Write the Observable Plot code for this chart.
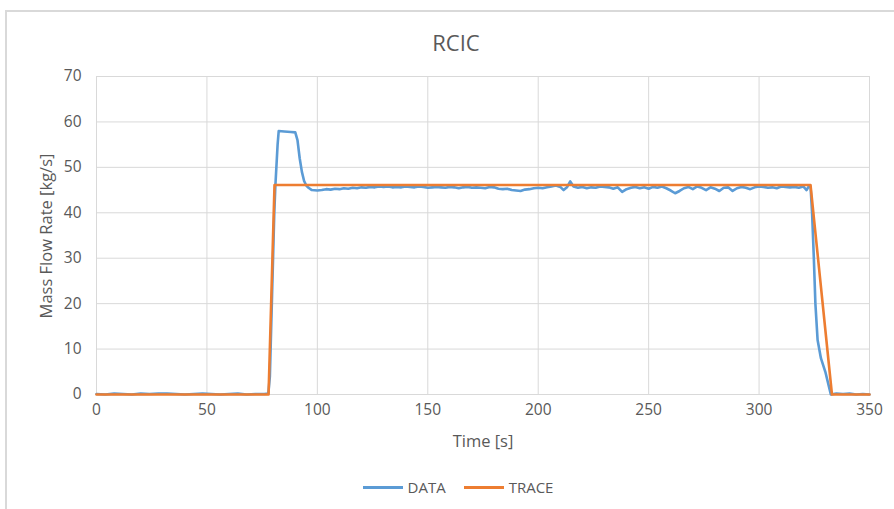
<!DOCTYPE html>
<html>
<head>
<meta charset="utf-8">
<script src="https://cdn.jsdelivr.net/npm/d3@7"></script>
<script src="https://cdn.jsdelivr.net/npm/@observablehq/plot@0.6"></script>
<style>
  body { margin: 0; background: #fff; }
  #wrap { position: relative; width: 894px; height: 509px; overflow: hidden; font-family: "Open Sans", sans-serif; color: #595959; }
  #frame { position: absolute; left: 5px; top: 10px; width: 1000px; height: 1000px; border-left: 2px solid #d9d9d9; border-top: 2px solid #d9d9d9; }
  #title { position: absolute; left: 0; width: 912px; top: 27px; text-align: center; font-size: 22px; }
  #chart { position: absolute; left: 0; top: 0; }
  #ylab { position: absolute; left: 45px; top: 236px; transform: translate(-50%, -50%) rotate(-90deg); font-size: 16.5px; white-space: nowrap; }
  #xlab { position: absolute; left: 483px; top: 440px; transform: translate(-50%, -50%); font-size: 16.5px; white-space: nowrap; }
  #legend { position: absolute; top: 477px; left: 0; width: 916px; display: flex; justify-content: center; font-size: 15px; }
  .item { display: flex; align-items: center; margin: 0 9px; }
  .sw { width: 40px; height: 3px; margin-right: 5px; }
</style>
</head>
<body>
<div id="wrap">
  <div id="frame"></div>
  <div id="title">RCIC</div>
  <div id="chart"></div>
  <div id="ylab">Mass Flow Rate [kg/s]</div>
  <div id="xlab">Time [s]</div>
  <div id="legend"></div>
</div>
<script>
const seriesNames = ["DATA", "TRACE"];
const seriesColors = ["#5B9BD5", "#ED7D31"];
const xTicks = [0, 50, 100, 150, 200, 250, 300, 350];
const yTicks = [0, 10, 20, 30, 40, 50, 60, 70];

const dataTime = [
  0, 4, 8, 12, 16, 20, 24, 28, 32, 36, 40, 44, 48, 52, 56, 60, 64, 68, 72, 76, 77.8,
  78.5, 79.5, 80.5, 81, 82, 82.5, 85, 88, 90, 91, 92, 93, 94, 95, 96, 97.5,
  100, 102, 104, 106, 108, 110, 112, 114, 116, 118, 120, 122, 124, 126, 128, 130,
  132, 134, 136, 138, 140, 142, 144, 146, 148, 150, 152, 154, 156, 158, 160, 162,
  164, 166, 168, 170, 172, 174, 176, 178, 180, 182, 184, 186, 188, 190, 192, 194,
  196, 198, 200, 202, 204, 206, 208, 210, 211.5, 213, 214.5, 216, 218, 220, 222,
  224, 226, 228, 230, 232, 234, 236, 238, 240, 242, 244, 246, 248, 250, 252, 254,
  256, 258, 260, 262, 264, 266, 268, 270, 272, 274, 276, 278, 280, 282, 284, 286,
  288, 290, 292, 294, 296, 298, 300, 302, 304, 306, 308, 310, 312, 314, 316, 318,
  320, 321.5, 322.5, 323.3, 324, 324.8, 325.5, 326.5, 328, 330, 331.5, 332.5,
  335, 338, 341, 344, 347, 350
];
const dataValue = [
  0.1, 0.0, 0.2, 0.1, 0.0, 0.2, 0.1, 0.2, 0.2, 0.1, 0.0, 0.1, 0.2, 0.1, 0.0, 0.1, 0.2, 0.0, 0.1, 0.1, 0.2,
  4, 22, 40, 46, 55, 58, 57.9, 57.8, 57.7, 56, 52, 49, 47, 46, 45.5, 45.0,
  44.9, 45.0, 45.2, 45.1, 45.3, 45.2, 45.4, 45.3, 45.5, 45.4, 45.6, 45.5, 45.7, 45.6, 45.8, 45.7,
  45.8, 45.6, 45.7, 45.6, 45.8, 45.7, 45.6, 45.8, 45.7, 45.5, 45.6, 45.7, 45.6, 45.5, 45.7, 45.6,
  45.4, 45.6, 45.7, 45.5, 45.6, 45.5, 45.4, 45.7, 45.6, 45.3, 45.2, 45.3, 45.0, 44.9, 44.8, 45.1,
  45.2, 45.4, 45.5, 45.4, 45.6, 45.8, 46.0, 45.7, 45.0, 45.6, 46.9, 45.8, 45.5, 45.7, 45.4,
  45.6, 45.5, 45.8, 45.7, 45.6, 45.3, 45.6, 44.6, 45.2, 45.5, 45.7, 45.4, 45.6, 45.3, 45.7, 45.5,
  45.8, 45.4, 44.9, 44.3, 44.8, 45.4, 45.7, 45.2, 45.8, 45.5, 45.0, 45.6, 45.3, 44.8, 45.5, 45.6,
  44.8, 45.4, 45.7, 45.5, 45.2, 45.6, 45.8, 45.7, 45.5, 45.6, 45.4, 45.8, 45.7, 45.6, 45.7, 45.5,
  45.8, 45.0, 45.8, 45.8, 40, 30, 20, 12, 8, 5, 2, 0,
  0.2, 0.1, 0.2, 0.0, 0.1, 0.0
];
const traceTime = [0, 77.9, 80.6, 323.3, 333, 350];
const traceValue = [0, 0, 46.1, 46.1, 0, 0];

const dataRows = dataTime.map((t, i) => ({t, v: dataValue[i]}));
const traceRows = traceTime.map((t, i) => ({t, v: traceValue[i]}));

const plot = Plot.plot({
  width: 894,
  height: 460,
  marginLeft: 96,
  marginRight: 25,
  marginTop: 76,
  marginBottom: 66,
  style: {fontFamily: "'Open Sans', sans-serif", fontSize: "15.5px", color: "#595959", background: "transparent", overflow: "visible"},
  x: {domain: [0, 350], ticks: xTicks, label: null},
  y: {domain: [0, 70], ticks: yTicks, label: null},
  marks: [
    Plot.gridX(xTicks, {stroke: "#d9d9d9", strokeOpacity: 1, strokeWidth: 1}),
    Plot.gridY(yTicks, {stroke: "#d9d9d9", strokeOpacity: 1, strokeWidth: 1}),
    Plot.axisX(xTicks, {tickSize: 0, tickPadding: 9, fill: "#595959", label: null}),
    Plot.axisY(yTicks, {tickSize: 0, tickPadding: 15, fill: "#595959", label: null}),
    Plot.line(dataRows, {x: "t", y: "v", stroke: seriesColors[0], strokeWidth: 2.6, curve: "linear"}),
    Plot.line(traceRows, {x: "t", y: "v", stroke: seriesColors[1], strokeWidth: 2.6, curve: "linear"})
  ]
});
document.getElementById("chart").appendChild(plot);

const legend = document.getElementById("legend");
seriesNames.forEach((n, i) => {
  const it = document.createElement("div");
  it.className = "item";
  const sw = document.createElement("div");
  sw.className = "sw";
  sw.style.background = seriesColors[i];
  const tx = document.createElement("span");
  tx.textContent = n;
  it.appendChild(sw); it.appendChild(tx);
  legend.appendChild(it);
});
</script>
</body>
</html>
